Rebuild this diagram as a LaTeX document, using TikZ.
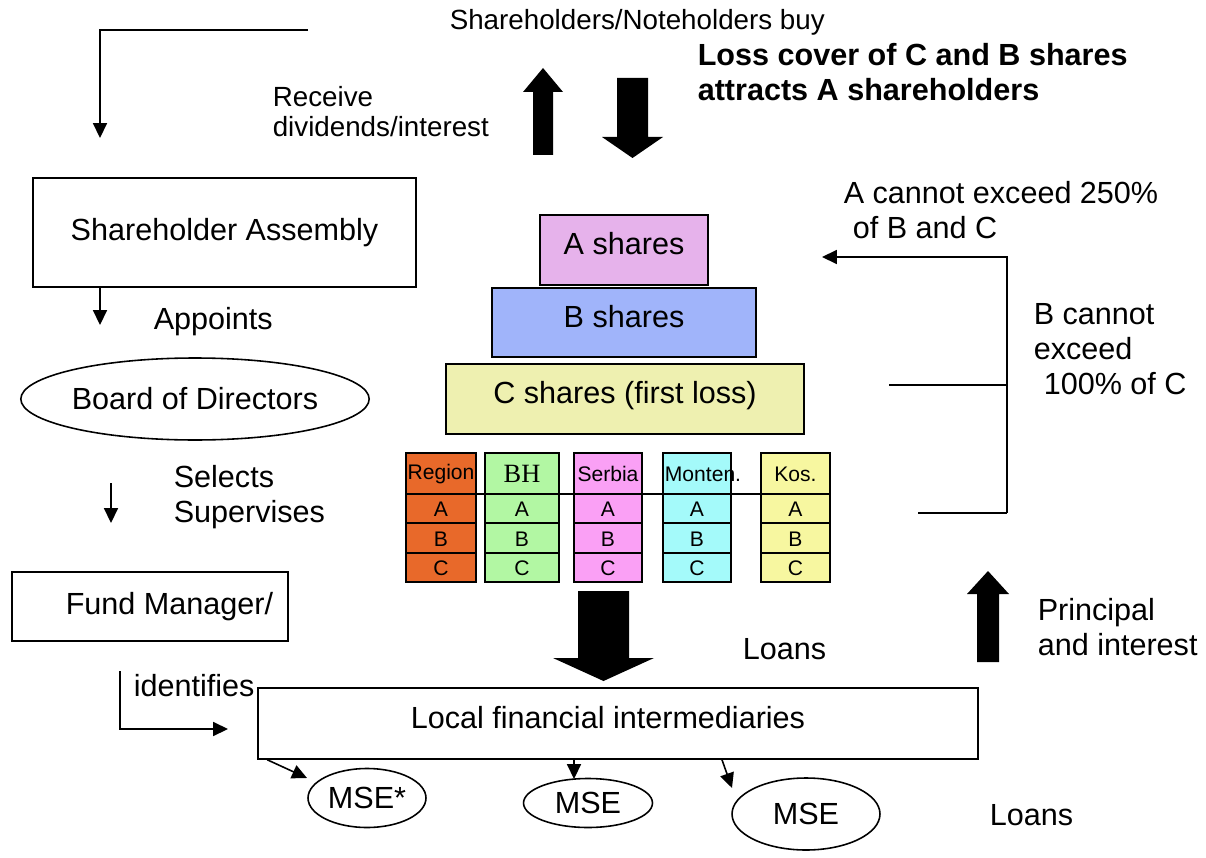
\documentclass[tikz,border=0pt]{standalone}
\usepackage{fontspec}
\setmainfont{Liberation Sans}
\newfontfamily\serifbh{Liberation Serif}
\usetikzlibrary{shapes.geometric,arrows.meta}
\definecolor{ashare}{RGB}{230,178,235}
\definecolor{bshare}{RGB}{160,180,250}
\definecolor{cshare}{RGB}{238,240,176}
\definecolor{creg}{RGB}{232,105,42}
\definecolor{cbh}{RGB}{178,247,163}
\definecolor{cser}{RGB}{250,160,245}
\definecolor{cmon}{RGB}{164,250,250}
\definecolor{ckos}{RGB}{247,247,160}
\newcommand\mainfs{\fontsize{17.4}{19.8}\selectfont}
\newcommand\notefs{\fontsize{15.8}{17}\selectfont}
\newcommand\colfs{\fontsize{12}{14}\selectfont}
\newcommand\upit[1]{\raisebox{0.26cm}{#1}}

\begin{document}
\begin{tikzpicture}[x=0.02cm,y=-0.02cm,line width=0.9pt,
        box/.style={draw,rectangle,inner sep=0pt,font=\mainfs},
        oval/.style={draw,ellipse,inner sep=0pt,font=\mainfs},
        txt/.style={inner sep=0pt,anchor=west,align=left,font=\mainfs},
        arr/.style={-{Triangle[length=8.5pt,width=8pt]}}]
\useasboundingbox (0,0) rectangle (1206,858);

% texts at the top
\node[txt,font=\notefs] (buy) at (449,22) {Shareholders/Noteholders buy};
\node[txt,font=\notefs] (recv) at (272,112) {Receive\\dividends/interest};
\node[txt,font=\mainfs\bfseries] (loss) at (697,72) {Loss cover of C and B shares\\attracts A shareholders};

% block arrows
\fill (533,155) -- (533,92) -- (523,92) -- (543,68) -- (563,92) -- (553,92) -- (553,155) -- cycle;
\fill (617,78) -- (617,137) -- (602,137) -- (632.5,158) -- (663,137) -- (648,137) -- (648,78) -- cycle;
\fill (578,591) -- (578,658) -- (553,658) -- (603.5,681) -- (654,658) -- (629,658) -- (629,591) -- cycle;
\fill (977,662) -- (977,594) -- (967,594) -- (988,571) -- (1009,594) -- (999,594) -- (999,662) -- cycle;

% left chain
\coordinate (buy-a) at (308,30);
\coordinate (buy-b) at (100,138);
\draw[arr] (buy-a) -- (buy-a -| buy-b) -- (buy-b);
\node[box,minimum width=7.66cm,minimum height=2.18cm] (sa) at (224.5,232.5) {Shareholder Assembly};
\coordinate (sa-out) at (100,325);
\draw[arr] (sa.south -| sa-out) -- (sa-out);
\node[txt] (appoints) at (153,322) {Appoints};
\node[oval,minimum width=6.92cm,minimum height=1.64cm] (bod) at (195,399) {Board of Directors};
\coordinate (bod-a) at (111,483);
\coordinate (bod-b) at (111,523);
\draw[arr] (bod-a) -- (bod-b);
\node[txt] (sel) at (173,497) {Selects\\Supervises};
\node[box,minimum width=5.52cm,minimum height=1.38cm] (fm) at (150,606.5) {};
\node[txt] (fmlabel) at (65,607) {Fund Manager/};
\node[txt] (ident) at (133,686) {identifies};
\coordinate (id-a) at (120,671);
\coordinate (id-b) at (228,729);
\draw[arr] (id-a) |- (id-b);

% share pyramid
\node[box,fill=ashare,minimum width=3.36cm,minimum height=1.4cm] (ash) at (624,250) {\upit{A shares}};
\node[box,fill=bshare,minimum width=5.28cm,minimum height=1.38cm] (bsh) at (624,322.5) {\upit{B shares}};
\node[box,fill=cshare,minimum width=7.16cm,minimum height=1.4cm] (csh) at (625,399) {\upit{C shares (first loss)}};

% country columns
\foreach \lbl/\xl/\xr/\col/\dx [count=\i] in {Region/406/476/creg/0,
        {\fontsize{15}{17}\selectfont\serifbh BH}/485/559/cbh/0,
        Serbia/574/642/cser/0, Monten./663/731/cmon/6, Kos./761/830/ckos/0}{
    \node[draw,fill=\col,inner sep=0pt,minimum width={(\xr-\xl)*0.02cm},
        minimum height=2.58cm] (col\i) at ({(\xl+\xr)/2},517.5) {};
    \draw (\xl,523) -- (\xr,523);
    \draw (\xl,553) -- (\xr,553);
    \node[font=\colfs,inner sep=0pt] (lbl\i) at ({(\xl+\xr)/2+\dx},474) {\lbl};
    \node[font=\colfs,inner sep=0pt] (ra\i) at ({(\xl+\xr)/2},509) {A};
    \node[font=\colfs,inner sep=0pt] (rb\i) at ({(\xl+\xr)/2},539) {B};
    \node[font=\colfs,inner sep=0pt] (rc\i) at ({(\xl+\xr)/2},568) {C};
}
\draw (col1.west |- 0,494) -- (col5.east |- 0,494);

% limits bracket
\node[txt] (acap) at (843,210) {A cannot exceed 250\%\\\hspace*{0.18cm}of B and C};
\node[txt] (bcap) at (1033,349) {B cannot\\exceed\\\hspace*{0.2cm}100\% of C};
\coordinate (cap-tip) at (822,257);
\coordinate (cap-top) at (1007,257);
\coordinate (cap-bot) at (1007,513);
\coordinate (cap-mid) at (889,385);
\coordinate (cap-low) at (918,513);
\draw[arr] (cap-bot) -- (cap-top) -- (cap-tip);
\draw (cap-mid) -- (cap-mid -| cap-top);
\draw (cap-low) -- (cap-bot);

% lending
\node[txt] (loans1) at (742,649) {Loans};
\node[txt] (princ) at (1037,627) {Principal\\and interest};
\node[box,minimum width=14.4cm,minimum height=1.42cm] (lfi) at (618,723.5) {\upit{Local financial intermediaries}\hspace*{0.4cm}};
\node[oval,minimum width=2.36cm,minimum height=1.18cm] (mse1) at (367,798) {MSE*};
\node[oval,minimum width=2.58cm,minimum height=0.98cm] (mse2) at (588,803) {MSE};
\node[oval,minimum width=2.96cm,minimum height=1.44cm] (mse3) at (806,814) {MSE};
\coordinate (m1) at (307,778);
\coordinate (m2) at (574,779);
\coordinate (m3) at (732,788);
\draw[arr] ([xshift=0.2cm]lfi.south west) -- (m1);
\draw[arr] (lfi.south -| m2) -- (m2);
\draw[arr] ([xshift=2.08cm]lfi.south) -- (m3);
\node[txt] (loans2) at (989,815) {Loans};

\end{tikzpicture}
\end{document}
